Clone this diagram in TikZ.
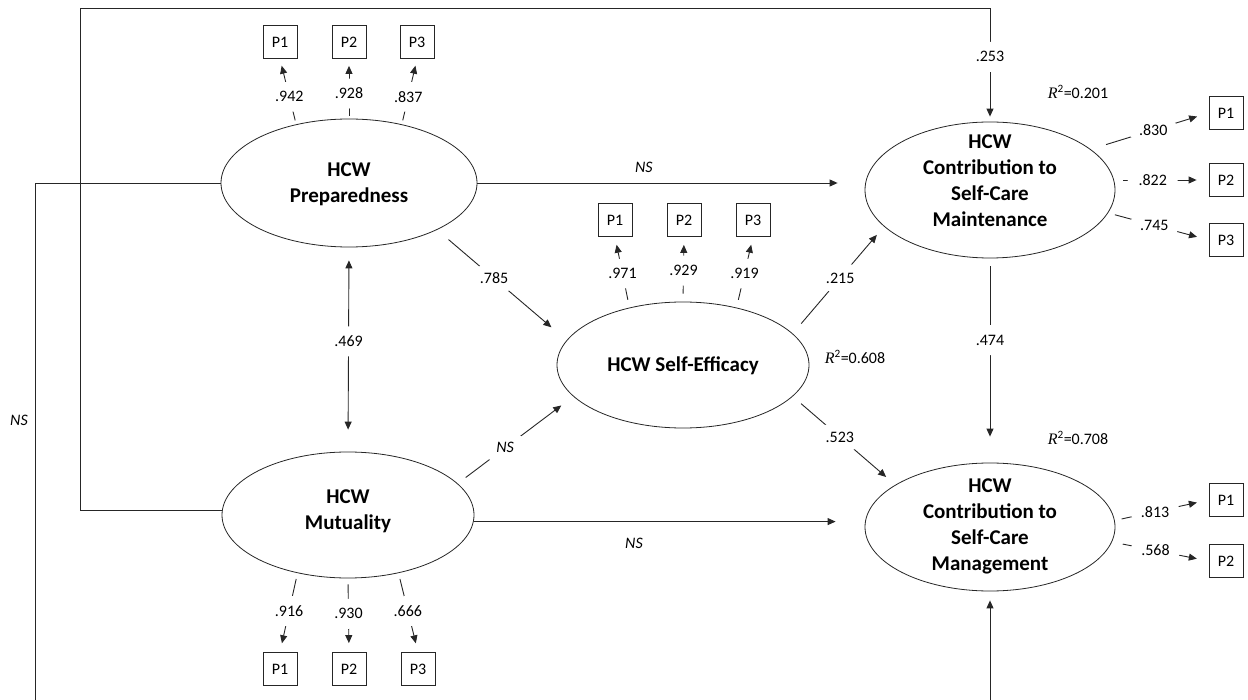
\documentclass[tikz,border=0pt]{standalone}
\usepackage{fontspec}
\setmainfont{Carlito}
\newfontfamily\rfont{Liberation Serif}
\usetikzlibrary{arrows.meta,calc,shapes.geometric}
\begin{document}
\begin{tikzpicture}[x=1pt,y=-1pt,
  lat/.style={ellipse,draw=black!85,line width=0.8pt,inner sep=0pt},
  lattext/.style={font=\fontsize{21}{26}\selectfont\bfseries,align=center,inner sep=0pt},
  ind/.style={draw=black!85,line width=0.8pt,minimum width=34pt,minimum height=33pt,inner sep=0pt,font=\fontsize{16}{19}\selectfont},
  sem/.style={draw=black!85,line width=0.9pt,-{Triangle[length=8pt,width=7pt]}},
  lab/.style={ellipse,fill=white,inner sep=0pt,minimum width=50pt,minimum height=30pt,font=\fontsize{16}{19}\selectfont},
  nslab/.style={lab,font=\fontsize{16}{19}\selectfont\itshape},
  ns/.style={font=\fontsize{16}{19}\selectfont\itshape,inner sep=0pt},
  r2/.style={font=\fontsize{16}{19}\selectfont,inner sep=0pt}]
\useasboundingbox (0,0) rectangle (1248,700);
\clip (0,0) rectangle (1248,700);

% latent variables
\node[lat,minimum width=256pt,minimum height=128pt] (prep) at (349,183) {};
\node[lattext] (prepT) at (349,184) {HCW\\Preparedness};
\node[lat,minimum width=252pt,minimum height=126pt] (mut) at (348,515) {};
\node[lattext] (mutT) at (348,511) {HCW\\Mutuality};
\node[lat,minimum width=252pt,minimum height=126pt] (se) at (683,365) {};
\node[lattext] (seT) at (683,366) {HCW Self-Efficacy};
\node[lat,minimum width=250pt,minimum height=136pt] (maint) at (990,190) {};
\node[lattext] (maintT) at (990,181) {HCW\\Contribution to\\Self-Care\\Maintenance};
\node[lat,minimum width=250pt,minimum height=128pt] (mgmt) at (990,527) {};
\node[lattext] (mgmtT) at (990,526) {HCW\\Contribution to\\Self-Care\\Management};

% indicators
\node[ind] (pp1) at (280,42) {P1};
\node[ind] (pp2) at (349,42) {P2};
\node[ind] (pp3) at (417,42) {P3};
\node[ind] (sp1) at (615,220) {P1};
\node[ind] (sp2) at (684,220) {P2};
\node[ind] (sp3) at (753,220) {P3};
\node[ind] (mp1) at (280,669) {P1};
\node[ind] (mp2) at (349,669) {P2};
\node[ind] (mp3) at (418,669) {P3};
\node[ind] (cp1) at (1226,113) {P1};
\node[ind] (cp2) at (1226,180) {P2};
\node[ind] (cp3) at (1226,240) {P3};
\node[ind] (gp1) at (1226,500) {P1};
\node[ind] (gp2) at (1226,561) {P2};

% loadings
\draw[sem,shorten <=4pt,shorten >=7pt] (prep.132) -- node[lab,pos=0.42]{.942} (pp1.south);
\draw[sem,shorten <=3pt,shorten >=7pt] (prep.north) -- node[lab,pos=0.42]{.928} (pp2.south);
\draw[sem,shorten <=4pt,shorten >=7pt] (prep.48) -- node[lab,pos=0.42]{.837} (pp3.south);

\draw[sem,shorten <=8pt,shorten >=8pt] (se.133) -- node[lab,pos=0.48]{.971} (sp1.south);
\draw[sem,shorten <=8pt,shorten >=8pt] (se.north) -- node[lab,pos=0.48]{.929} (sp2.south);
\draw[sem,shorten <=8pt,shorten >=8pt] (se.47) -- node[lab,pos=0.48]{.919} (sp3.south);

\draw[sem,shorten <=6pt,shorten >=9pt] (mut.229) -- node[lab,pos=0.48]{.916} (mp1.north);
\draw[sem,shorten <=6pt,shorten >=9pt] (mut.south) -- node[lab,pos=0.48]{.930} (mp2.north);
\draw[sem,shorten <=6pt,shorten >=9pt] (mut.311) -- node[lab,pos=0.48]{.666} (mp3.north);

\draw[sem,shorten <=16pt,shorten >=12pt] (maint.22) -- node[lab,pos=0.53]{.830} (cp1.west);
\draw[sem,shorten <=8pt,shorten >=12pt] (cp2.west -| maint.east) -- node[lab,pos=0.4]{.822} (cp2.west);
\draw[sem,shorten <=7pt,shorten >=12pt] (maint.-11) -- node[lab,pos=0.46]{.745} (cp3.west);

\draw[sem,shorten <=7pt,shorten >=12pt] (mgmt.3) -- node[lab,pos=0.43]{.813} (gp1.west);
\draw[sem,shorten <=11pt,shorten >=12pt] (mgmt.-7) -- node[lab,pos=0.45]{.568} (gp2.west);

% structural paths
\draw[sem,shorten >=27pt] (prep.east) -- node[ns,pos=0.43,yshift=16pt]{NS} (prep.east -| maint.west);
\draw[sem,shorten >=29pt] (mut.-3) -- node[ns,pos=0.41,yshift=-22pt]{NS} (mut.-3 -| mgmt.west);
\draw[sem,shorten <=15pt,shorten >=20pt] (prep.-28) -- node[lab,pos=0.44]{.785} (se.168);
\draw[sem,shorten <=10pt,shorten >=15pt] (mut.16) -- node[nslab,pos=0.41]{NS} (se.196);
\draw[sem,shorten <=13pt,shorten >=11pt] (se.16) -- node[lab,pos=0.52]{.215} (maint.199);
\draw[sem,shorten <=11pt,shorten >=12pt] (se.-16) -- node[lab,pos=0.46]{.523} (mgmt.156);
\draw[sem,shorten <=8pt,shorten >=26pt] (maint.south) -- node[lab,pos=0.4]{.474} (mgmt.north);
\draw[sem,{Triangle[length=8pt,width=7pt]}-{Triangle[length=8pt,width=7pt]},shorten <=13pt,shorten >=22pt] (prep.south) -- node[lab,pos=0.46]{.469} (mut.north);

\coordinate (tl) at (80,8);
\draw[sem,shorten >=5pt] (mut.178) -| (tl) -- (tl -| maint.north) -- node[lab,pos=0.43]{.253} (maint.north);
\coordinate (bl) at (35,712);
\draw[sem,shorten >=9pt] (prep.west) -| (bl) -- (bl -| mgmt.south) -- (mgmt.south);
\node[ns] (nsL) at (19,420) {NS};

% R squared
\node[r2] (r2a) at (1078,92) {{\rfont\itshape R}\textsuperscript{2}=0.201};
\node[r2] (r2b) at (855,357) {{\rfont\itshape R}\textsuperscript{2}=0.608};
\node[r2] (r2c) at (1078,438) {{\rfont\itshape R}\textsuperscript{2}=0.708};
\end{tikzpicture}
\end{document}
